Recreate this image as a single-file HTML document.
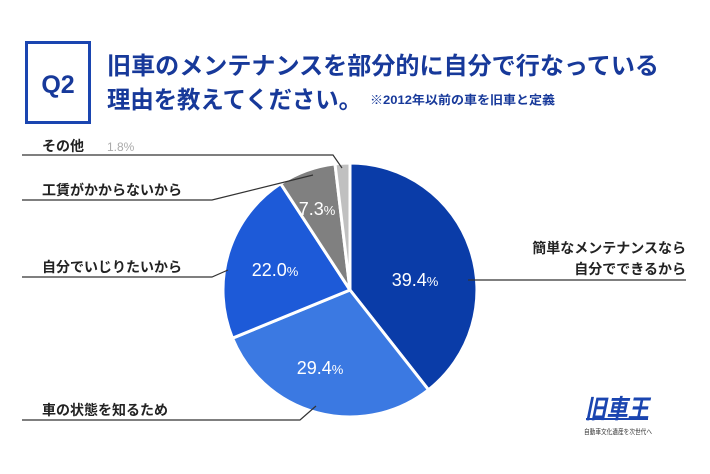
<!DOCTYPE html>
<html><head><meta charset="utf-8"><style>
body{margin:0;background:#fff;}
svg{display:block;font-family:"Liberation Sans","Noto Sans CJK JP",sans-serif;}
</style></head><body>
<svg width="710" height="474" viewBox="0 0 710 474" xmlns="http://www.w3.org/2000/svg">
<rect width="710" height="474" fill="#fff"/>
<rect x="26.5" y="42.5" width="63" height="80" fill="none" stroke="#1a45b0" stroke-width="3"/>
<text x="58" y="93" text-anchor="middle" font-size="25" font-weight="bold" fill="#17399a">Q2</text>
<text x="107" y="74" font-size="24" font-weight="bold" fill="#17399a" textLength="552" lengthAdjust="spacingAndGlyphs">旧車のメンテナンスを部分的に自分で行なっている</text>
<text x="107" y="108" font-size="24" font-weight="bold" fill="#17399a" textLength="255" lengthAdjust="spacingAndGlyphs">理由を教えてください。</text>
<text x="370" y="104" font-size="12" font-weight="bold" fill="#17399a" textLength="185" lengthAdjust="spacingAndGlyphs">※2012年以前の車を旧車と定義</text>
<g stroke="#fff" stroke-width="3" stroke-linejoin="round">
<path d="M350 290 L350 163 A127 127 0 0 1 428.5 389.8 Z" fill="#0a3ca8"/>
<path d="M350 290 L428.5 389.8 A127 127 0 0 1 232.5 338.2 Z" fill="#3b79e2"/>
<path d="M350 290 L232.5 338.2 A127 127 0 0 1 280.6 183.6 Z" fill="#1d5ad8"/>
<path d="M350 290 L280.6 183.6 A127 127 0 0 1 335 163.9 Z" fill="#808080"/>
<path d="M350 290 L335 163.9 A127 127 0 0 1 350 163 Z" fill="#c0c0c0"/>
</g>
<g fill="#fff" font-size="18">
<text x="415" y="286" text-anchor="middle">39.4<tspan font-size="13">%</tspan></text>
<text x="320" y="374" text-anchor="middle">29.4<tspan font-size="13">%</tspan></text>
<text x="275" y="276" text-anchor="middle">22.0<tspan font-size="13">%</tspan></text>
<text x="317" y="215" text-anchor="middle">7.3<tspan font-size="13">%</tspan></text>
</g>
<g stroke="#333" stroke-width="1.2" fill="none">
<polyline points="22,155 333,155 342,168"/>
<polyline points="22,200 212,200 313,175"/>
<polyline points="22,277 212,277 228,270"/>
<polyline points="22,420 300,420 316,406"/>
<line x1="468" y1="280" x2="686" y2="280"/>
</g>
<g font-size="14" font-weight="bold" fill="#222">
<text x="42" y="151">その他</text>
<text x="42" y="195">工賃がかからないから</text>
<text x="42" y="272">自分でいじりたいから</text>
<text x="42" y="415">車の状態を知るため</text>
<text x="686" y="253" text-anchor="end">簡単なメンテナンスなら</text>
<text x="686" y="274" text-anchor="end">自分でできるから</text>
</g>
<text x="107" y="151" font-size="12" fill="#aaa">1.8%</text>
<text x="585" y="418" font-size="26" font-weight="bold" font-style="italic" fill="#1a45b0" textLength="64" lengthAdjust="spacingAndGlyphs">旧車王</text>
<rect x="586" y="418" width="62" height="2" fill="#1a45b0"/>
<text x="584" y="434" font-size="7" fill="#333" textLength="68" lengthAdjust="spacingAndGlyphs">自動車文化遺産を次世代へ</text>
</svg>
</body></html>
